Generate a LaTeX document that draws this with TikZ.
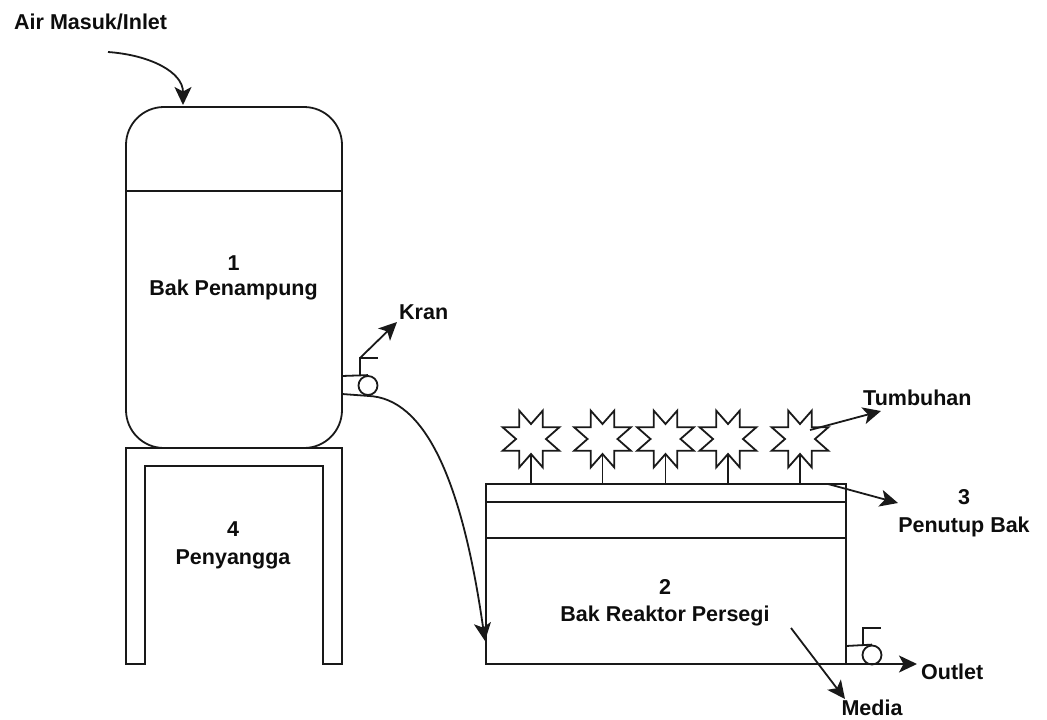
\documentclass[tikz,border=0pt]{standalone}
\usepackage{fontspec}
\setmainfont{Liberation Sans}
\usetikzlibrary{arrows.meta}
\tikzset{
  line/.style={draw=black!90,line width=1.8},
  arrowline/.style={line,-{Stealth[length=18,width=17,inset=4.5]}},
  lbl/.style={font=\fontsize{21.5}{25}\selectfont\bfseries,align=center,inner sep=0,text=black!95},
  pt/.style={circle,minimum size=19,inner sep=0,line}
}
\begin{document}
\begin{tikzpicture}[x=1pt,y=-1pt]
\useasboundingbox (0,0) rectangle (1047,720);
% tank
\node[line,rounded corners=38,minimum width=216,minimum height=341,inner sep=0] (tank) at (234,277.5) {};
\coordinate (tankL) at (126,191); \coordinate (tankR) at (342,191);
\draw[line] (tankL) -- (tankR);
% stand
\coordinate (stA) at (126,664); \coordinate (stB) at (145,664);
\coordinate (stC) at (323,664); \coordinate (stD) at (342,664);
\draw[line] (stA) -- (126,448) -- (342,448) -- (stD) -- (stC) -- (323,466) -- (145,466) -- (stB) -- cycle;
% tap 1
\node[pt] (tap) at (368,385.5) {};
\coordinate (tapT) at (342,376); \coordinate (tapB) at (342,394);
\coordinate (tapS) at (360,358); \coordinate (tapE) at (378,358);
\draw[line] (tapT) -- (tap.north);
\draw[line] (tapB) -- (tap.south);
\draw[line] (360,376) -- (tapS) -- (tapE);
% reactor
\node[line,minimum width=360,minimum height=180,inner sep=0] (reactor) at (666,574) {};
\coordinate (r1L) at (486,502); \coordinate (r1R) at (846,502);
\coordinate (r2L) at (486,538); \coordinate (r2R) at (846,538);
\draw[line] (r1L) -- (r1R);
\draw[line] (r2L) -- (r2R);
% tap 2
\node[pt] (tapb) at (872,655) {};
\coordinate (tbL) at (846,646); \coordinate (tbS) at (863,628); \coordinate (tbE) at (881,628);
\draw[line] (tbL) -- (tapb.north);
\draw[line] (863,646) -- (tbS) -- (tbE);
% plants
\foreach \n/\x in {a/531,b/602.5,c/665.5,d/728,e/800}{
  \node[inner sep=0,minimum size=0] (s\n) at (\x,439) {};
  \draw[line,line join=miter,shift={(\x,439)}]
    (0,-15) -- (11.7,-28.3) -- (11.7,-11.7) -- (28.3,-11.7) -- (15,0) -- (28.3,11.7) -- (11.7,11.7) -- (11.7,28.3)
    -- (0,15) -- (-11.7,28.3) -- (-11.7,11.7) -- (-28.3,11.7) -- (-15,0) -- (-28.3,-11.7) -- (-11.7,-11.7) -- (-11.7,-28.3) -- cycle;
  \draw[line] ([yshift=-15pt]s\n.center) -- (\x,484);
}
% labels
\node[lbl,anchor=west] (inlet) at (14,22) {Air Masuk/Inlet};
\node[lbl] (l1) at (233.5,277.5) {1\\Bak Penampung};
\node[lbl] (l4) at (233,545) {4\\[3pt]Penyangga};
\node[lbl] (l2) at (665,603) {2\\[2pt]Bak Reaktor Persegi};
\node[lbl] (l3) at (964,513) {3\\[3pt]Penutup Bak};
\node[lbl,anchor=west] (kran) at (399,312) {Kran};
\node[lbl,anchor=west] (tumb) at (863,398) {Tumbuhan};
\node[lbl,anchor=west] (outlet) at (921,672) {Outlet};
\node[lbl] (media) at (872,708) {Media};
% connectors
\coordinate (inS) at (108,52); \coordinate (inE) at (183,105);
\draw[arrowline] (inS) .. controls (150,55) and (183,72) .. (inE);
\coordinate (kE) at (397,322);
\draw[arrowline] (tapS) -- (kE);
\coordinate (cvE) at (485,641);
\draw[arrowline] (tap.south) .. controls (425,398) and (462,480) .. (cvE);
\coordinate (oS) at (486,664); \coordinate (oE) at (917,664);
\draw[arrowline] (oS) -- (oE);
\coordinate (mS) at (791,628); \coordinate (mE) at (845,699);
\draw[arrowline] (mS) -- (mE);
\coordinate (tS) at (810,430); \coordinate (tE) at (881,411);
\draw[arrowline] (tS) -- (tE);
\coordinate (pS) at (828,484); \coordinate (pE) at (898,503);
\draw[arrowline] (pS) -- (pE);
\end{tikzpicture}
\end{document}
